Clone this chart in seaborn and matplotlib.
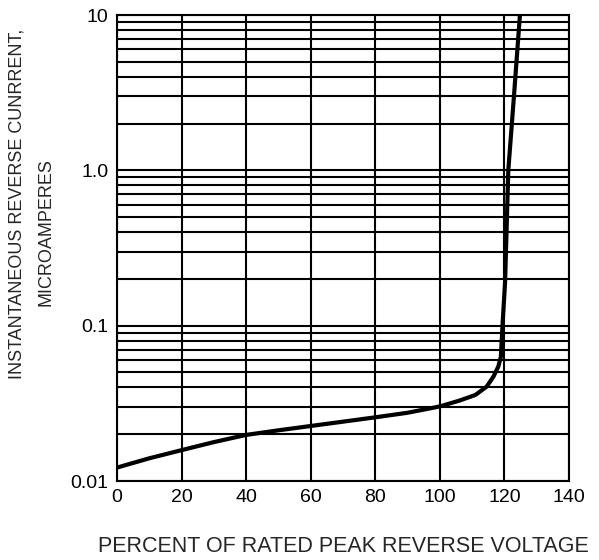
# Reverse current vs percent of rated peak reverse voltage (log scale)

import numpy as np
import pandas as pd
import matplotlib
matplotlib.use("Agg")
import matplotlib.pyplot as plt
import seaborn as sns

# Curve
voltage_pct = [0, 10, 20, 30, 40, 50, 60, 70, 80, 90, 100, 106, 111, 114.5,
               116.6, 118.1, 118.9, 119.4, 120.2, 121.2, 123.0, 124.8]
current_ua = [0.0122, 0.014, 0.0158, 0.0178, 0.0198, 0.0212, 0.0226, 0.0241,
              0.0257, 0.0275, 0.0302, 0.0329, 0.0358, 0.0405, 0.047, 0.0545,
              0.063, 0.1, 0.19, 1.0, 3.1, 10.0]

x_ticks = [0, 20, 40, 60, 80, 100, 120, 140]
y_ticks = [0.01, 0.1, 1.0, 10]
y_tick_labels = ["0.01", "0.1", "1.0", "10"]

df = pd.DataFrame({'Percent': voltage_pct, 'Current': current_ua})

sns.set_style("white")
plt.rcParams['font.family'] = ['Liberation Sans', 'DejaVu Sans']

fig = plt.figure(figsize=(5.99, 5.60), dpi=100)
ax = fig.add_axes([117/599, 1 - 481/560, 452/599, 466/560])

sns.lineplot(data=df, x='Percent', y='Current', ax=ax, color='black',
             linewidth=3, sort=False, estimator=None, zorder=5)

ax.set_yscale('log')
ax.set_xlim(0, 140)
ax.set_ylim(0.01, 10)
ax.set_xticks(x_ticks)
ax.set_yticks(y_ticks)
ax.set_yticklabels(y_tick_labels)

ax.grid(which='major', axis='x', color='black', linewidth=1.5)
ax.grid(which='both', axis='y', color='black', linewidth=1.5)
ax.tick_params(which='both', length=0, labelsize=14, colors='black', pad=6)

for s in ax.spines.values():
    s.set_color('black')
    s.set_linewidth(1.5)

ax.set_xlabel('PERCENT OF RATED PEAK REVERSE VOLTAGE', fontsize=15.5, va='center')
ax.xaxis.set_label_coords(0.5, (481 - 546) / 466)
ax.set_ylabel('')

fig.text(17.5/599, 1 - 204/560, 'INSTANTANEOUS REVERSE CUNRRENT,', rotation=90,
         fontsize=13, ha='center', va='center')
fig.text(46.5/599, 1 - 232/560, 'MICROAMPERES', rotation=90,
         fontsize=13, ha='center', va='center')

fig.savefig('out.png', dpi=100)
